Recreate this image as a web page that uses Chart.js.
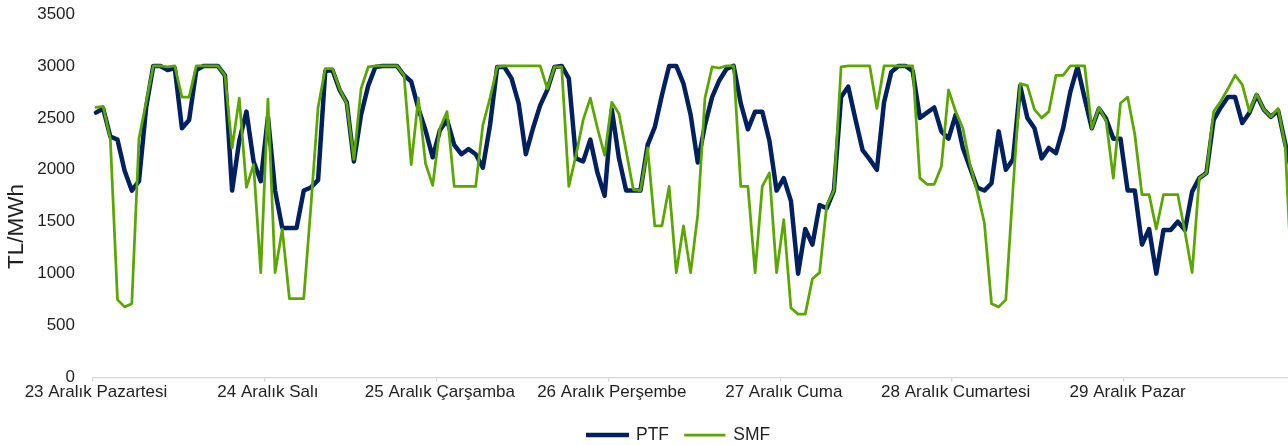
<!DOCTYPE html>
<html>
<head>
<meta charset="utf-8">
<script src="https://cdn.jsdelivr.net/npm/chart.js@4.4.1/dist/chart.umd.min.js"></script>
<style>
  html, body { margin: 0; padding: 0; background: #fff; overflow: hidden; }
  #wrap { position: relative; width: 1298px; height: 445px; }
</style>
</head>
<body>
<div id="wrap"><canvas id="chart"></canvas></div>
<script>
'use strict';

var days = ['23 Aralık Pazartesi', '24 Aralık Salı', '25 Aralık Çarşamba', '26 Aralık Perşembe',
  '27 Aralık Cuma', '28 Aralık Cumartesi', '29 Aralık Pazar'];

// hourly values, 24 per day
var ptf = [
  2550, 2590, 2320, 2290, 1990, 1800, 1890, 2600, 3000, 3000, 2960, 2980, 2400, 2480, 2960, 3000, 3000, 3000, 2910, 1800, 2280, 2560, 2080, 1890,
  2510, 1800, 1440, 1440, 1440, 1800, 1830, 1900, 2950, 2960, 2770, 2650, 2080, 2530, 2810, 2990, 3000, 3000, 3000, 2910, 2850, 2590, 2380, 2120,
  2380, 2480, 2240, 2150, 2200, 2150, 2020, 2430, 2990, 2990, 2880, 2640, 2150, 2400, 2620, 2770, 2990, 3000, 2880, 2110, 2080, 2290, 1970, 1750,
  2580, 2110, 1800, 1800, 1800, 2240, 2410, 2720, 3000, 3000, 2830, 2530, 2070, 2430, 2700, 2860, 2970, 3000, 2640, 2390, 2560, 2560, 2280, 1800,
  1920, 1700, 1000, 1430, 1280, 1660, 1630, 1800, 2700, 2800, 2490, 2190, 2100, 2000, 2650, 2940, 3000, 3000, 2950, 2500, 2550, 2600, 2370, 2300,
  2530, 2210, 2020, 1830, 1800, 1870, 2370, 2000, 2100, 2810, 2500, 2400, 2110, 2210, 2160, 2400, 2750, 2990, 2690, 2400, 2590, 2490, 2300, 2300,
  1800, 1800, 1280, 1430, 1000, 1420, 1420, 1500, 1420, 1790, 1920, 1970, 2480, 2600, 2700, 2700, 2450, 2550, 2720, 2580, 2510, 2570, 2250, 1950
];

var smf = [
  2600, 2610, 2300, 750, 680, 710, 2300, 2650, 3000, 3000, 2990, 3000, 2700, 2700, 3000, 3000, 3000, 3000, 2910, 2210, 2690, 1830, 2050, 1010,
  2680, 1010, 1430, 760, 760, 760, 1650, 2600, 2975, 2975, 2780, 2640, 2100, 2780, 2990, 3000, 3000, 3000, 3000, 2910, 2050, 2690, 2060, 1850,
  2400, 2560, 1840, 1840, 1840, 1840, 2430, 2690, 2990, 3000, 3000, 3000, 3000, 3000, 3000, 2780, 2990, 2990, 1840, 2140, 2480, 2690, 2400, 2140,
  2650, 2540, 2180, 1810, 1800, 2210, 1460, 1460, 1840, 1010, 1460, 1010, 1570, 2690, 2990, 2980, 3000, 3000, 1840, 1840, 1010, 1840, 1970, 1010,
  1520, 670, 610, 610, 950, 1010, 1660, 1800, 2990, 3000, 3000, 3000, 3000, 2590, 3000, 3000, 3000, 3000, 3000, 1920, 1860, 1860, 2030, 2770,
  2560, 2400, 2050, 1790, 1490, 710, 680, 750, 1820, 2830, 2810, 2580, 2500, 2560, 2910, 2910, 3000, 3000, 3000, 2400, 2600, 2470, 1920, 2640,
  2700, 2340, 1760, 1760, 1430, 1760, 1760, 1760, 1400, 1010, 1920, 1970, 2560, 2660, 2780, 2910, 2820, 2560, 2730, 2580, 2510, 2590, 2230, 800
];

var yMin = 0;
var yMax = 3500;
var yStep = 500;

var labels = [];
days.forEach(function (d) {
  for (var h = 0; h < 24; h++) {
    labels.push(d + ' ' + (h < 10 ? '0' : '') + h + ':00');
  }
});

var fontFamily = '"Liberation Sans", Arial, sans-serif';
var textColor = '#1f1f1f';
var axisColor = '#d5d5d5';
var legendFont = 17.5;

Chart.defaults.font.family = fontFamily;
Chart.defaults.color = textColor;

var yTitle = {
  id: 'yTitle',
  afterDraw: function (chart) {
    var ctx = chart.ctx;
    ctx.save();
    ctx.translate(16.7, 226.5);
    ctx.rotate(-Math.PI / 2);
    ctx.font = '22.5px ' + fontFamily;
    ctx.fillStyle = textColor;
    ctx.textAlign = 'center';
    ctx.textBaseline = 'middle';
    ctx.fillText('TL/MWh', 0, 0);
    ctx.restore();
  }
};

// put the legend under the plot where the original has it
var legendPlace = {
  id: 'legendPlace',
  afterLayout: function (chart) {
    var lg = chart.legend;
    var pad = lg.options.labels.padding;
    var w = lg.width;
    var h = lg.height;
    lg.left = 587.75 - (pad + w - lg.lineWidths[0]) / 2;
    lg.right = lg.left + w;
    lg.top = 435 - pad - legendFont / 2;
    lg.bottom = lg.top + h;
  }
};

var chart = new Chart(document.getElementById('chart'), {
  type: 'line',
  data: {
    labels: labels,
    datasets: [
      {
        label: 'SMF',
        data: smf,
        borderColor: '#5aa700',
        backgroundColor: '#5aa700',
        borderWidth: 2.75,
        pointRadius: 0,
        tension: 0,
        borderJoinStyle: 'round',
        borderCapStyle: 'round'
      },
      {
        label: 'PTF',
        data: ptf,
        borderColor: '#002060',
        backgroundColor: '#002060',
        borderWidth: 4.5,
        pointRadius: 0,
        tension: 0,
        borderJoinStyle: 'round',
        borderCapStyle: 'round'
      }
    ]
  },
  options: {
    responsive: true,
    maintainAspectRatio: false,
    animation: false,
    layout: { padding: { top: 14, right: 2, bottom: 0, left: 0 } },
    scales: {
      x: {
        type: 'category',
        offset: true,
        afterFit: function (s) { s.height = 24; },
        border: { display: true, color: axisColor, width: 1.3 },
        grid: {
          display: true,
          drawOnChartArea: false,
          drawTicks: true,
          tickLength: 4,
          offset: true,
          lineWidth: 1.3,
          color: function (c) { return c.index % 24 === 0 ? axisColor : 'rgba(0,0,0,0)'; }
        },
        ticks: {
          autoSkip: false,
          maxRotation: 0,
          minRotation: 0,
          padding: 1,
          font: { size: 17 },
          callback: function (v, i) { return i % 24 === 0 ? days[i / 24] : ''; }
        }
      },
      y: {
        min: yMin,
        max: yMax,
        afterFit: function (s) { s.width = 92.4; },
        border: { display: false },
        grid: { display: false, drawTicks: true, tickLength: 17.4 },
        ticks: {
          stepSize: yStep,
          padding: 0,
          font: { size: 17 },
          callback: function (v) { return String(v); }
        }
      }
    },
    plugins: {
      tooltip: { enabled: false },
      legend: {
        position: 'bottom',
        reverse: true,
        labels: {
          boxWidth: 39.5,
          boxHeight: 1,
          padding: 16,
          font: { size: legendFont },
          color: textColor,
          generateLabels: function (c) {
            var items = Chart.defaults.plugins.legend.labels.generateLabels(c);
            items.forEach(function (it) {
              it.fillStyle = it.strokeStyle;
              it.lineWidth = it.lineWidth - 1;
              it.lineJoin = 'miter';
              it.lineCap = 'butt';
            });
            return items;
          }
        }
      }
    }
  },
  plugins: [yTitle, legendPlace]
});
</script>
</body>
</html>
